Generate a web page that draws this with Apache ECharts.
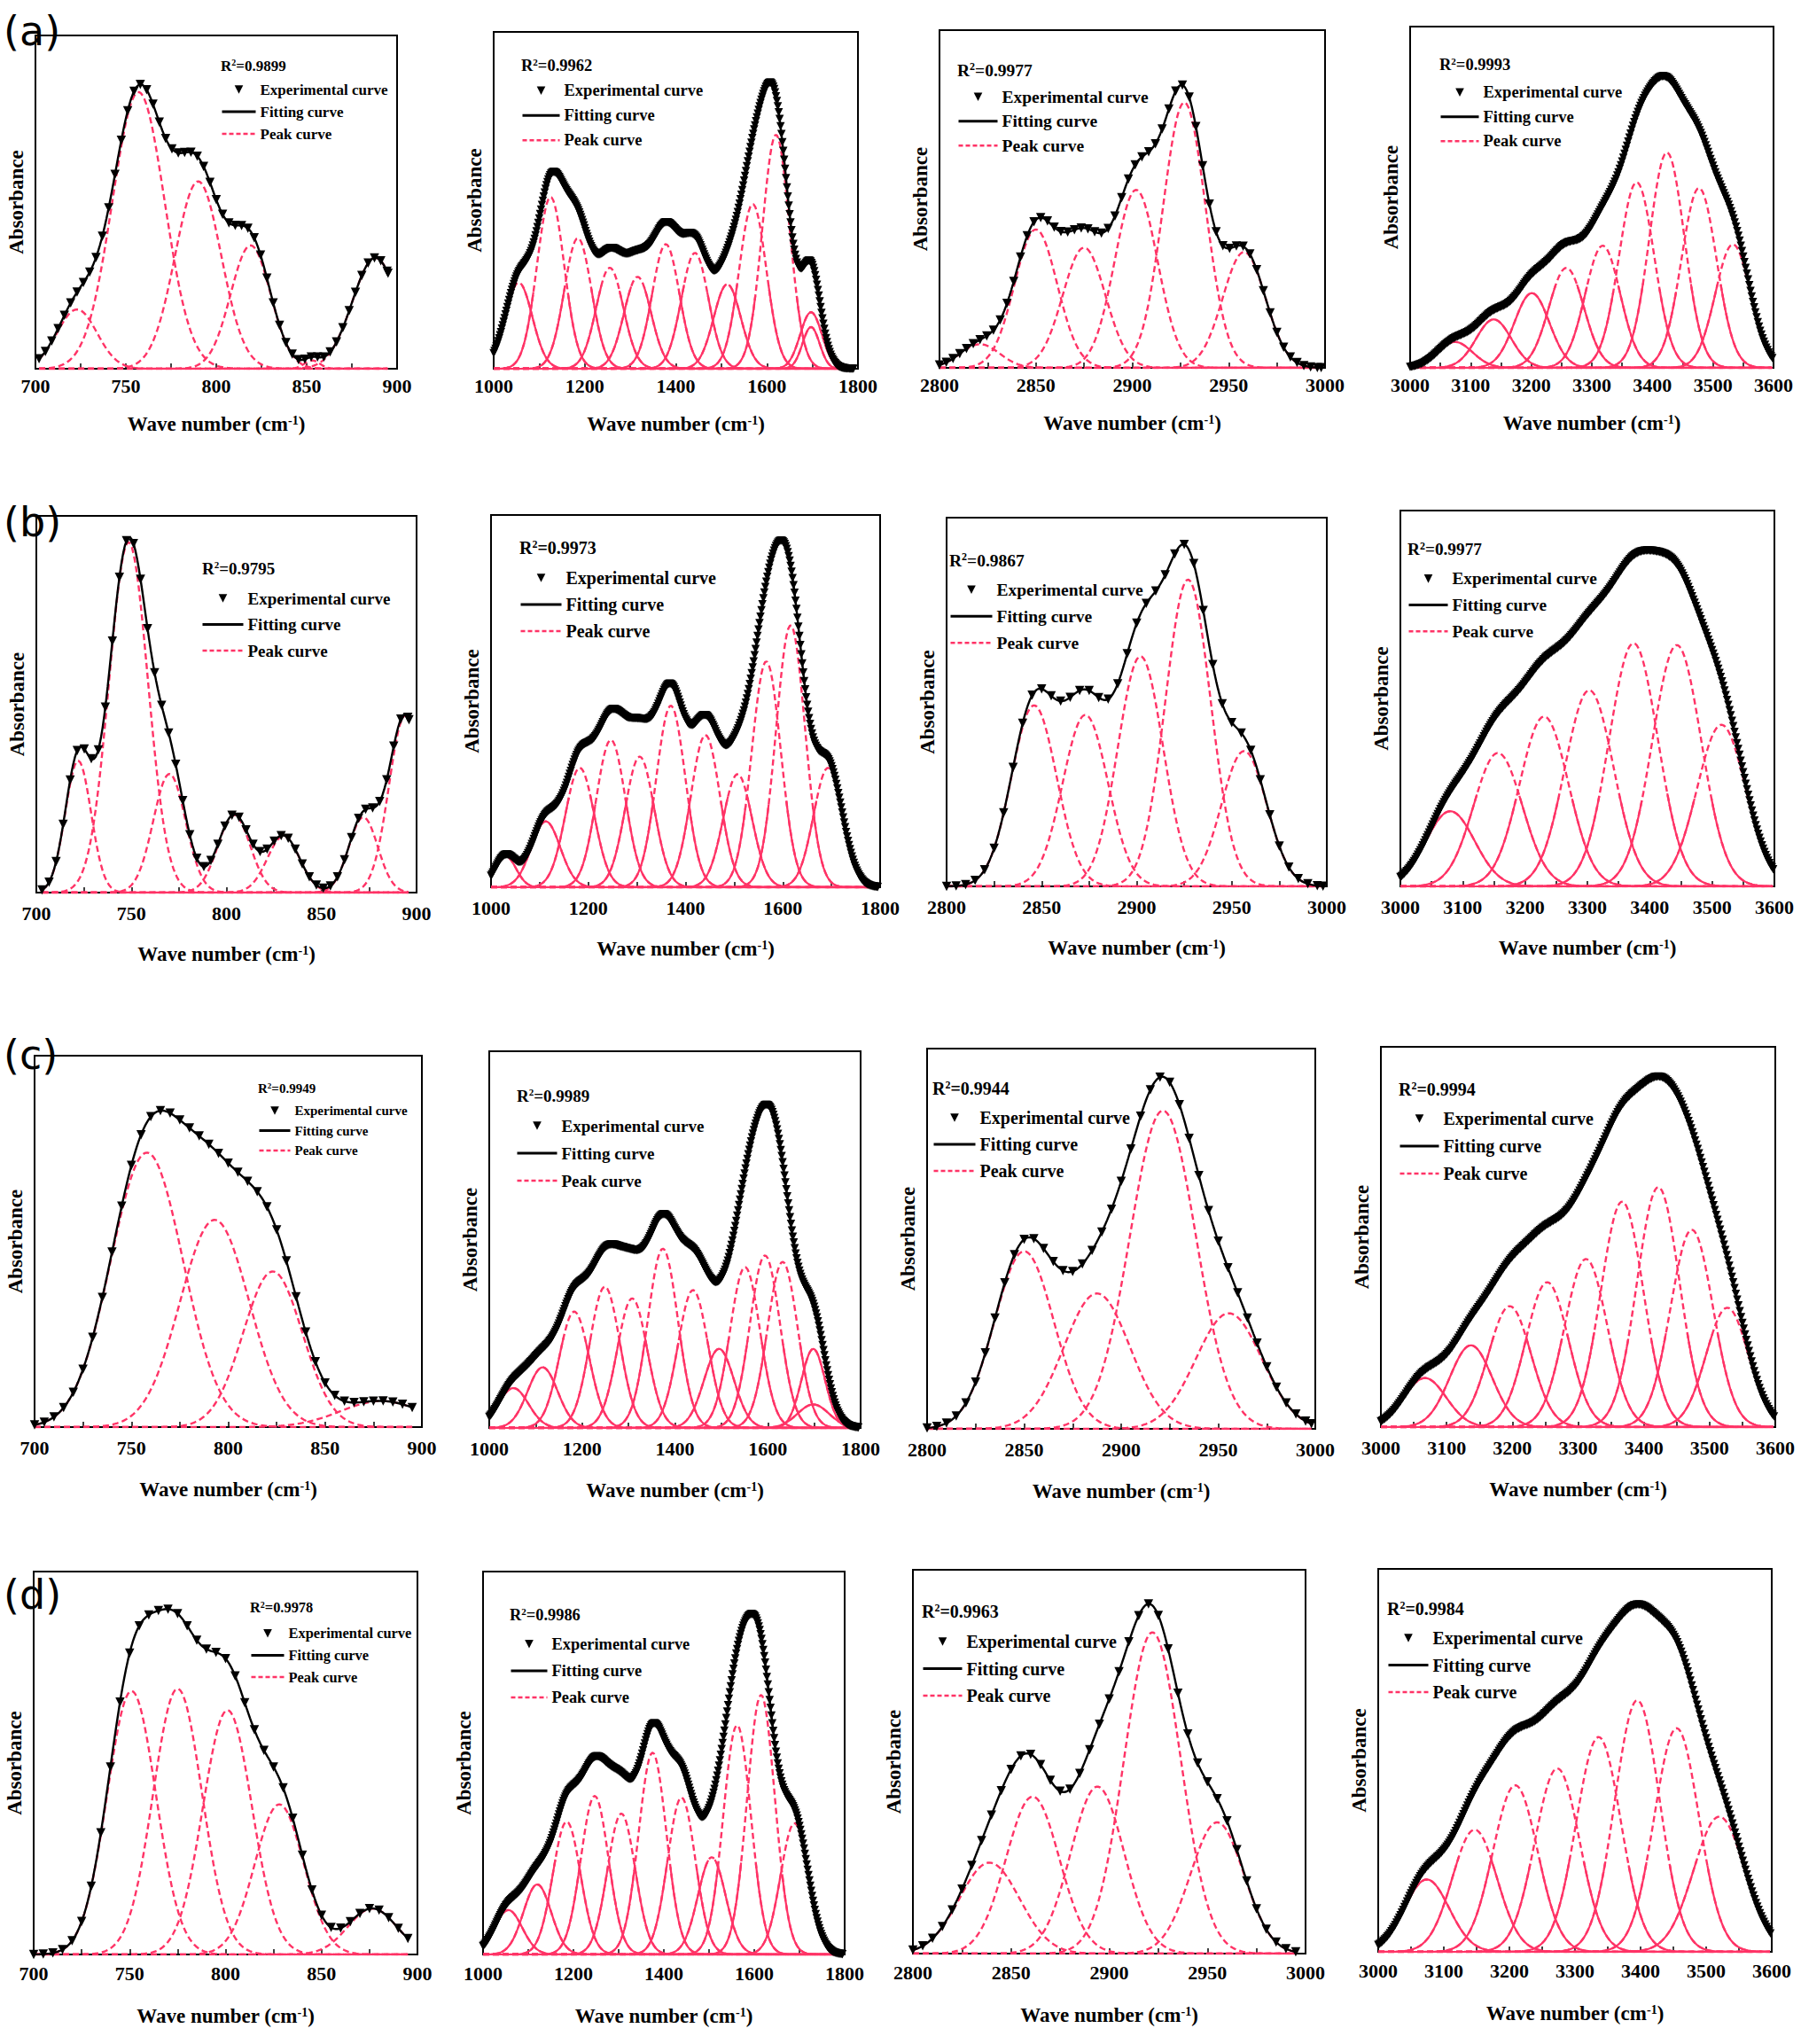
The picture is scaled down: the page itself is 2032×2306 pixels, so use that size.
<!DOCTYPE html>
<html>
<head>
<meta charset="utf-8">
<script src="https://cdn.jsdelivr.net/npm/echarts@6/dist/echarts.min.js"></script>
<style>
html,body{margin:0;padding:0;background:#fff;}
#chart{width:2032px;height:2306px;}
</style>
</head>
<body>
<div id="chart"></div>
<script>
// ---------------- DATA ----------------
// x-axis ranges: [min, max, label interval] in cm-1
const axis_700_900   = [700, 900, 50];
const axis_1000_1800 = [1000, 1800, 200];
const axis_2800_3000 = [2800, 3000, 50];
const axis_3000_3600 = [3000, 3600, 100];

// R^2 labels per row
const r2_a = ['0.9899', '0.9962', '0.9977', '0.9993'];
const r2_b = ['0.9795', '0.9973', '0.9867', '0.9977'];
const r2_c = ['0.9949', '0.9989', '0.9944', '0.9994'];
const r2_d = ['0.9978', '0.9986', '0.9963', '0.9984'];
const rowLabels = ['(a)', '(b)', '(c)', '(d)'];

// Fitted peaks: centre (cm-1), height (fraction of plot height), half width at half maximum (cm-1)
// Experimental range: [first, last, spacing of measured points] (cm-1)
const a1_centers = [723, 757, 790, 819, 853, 888];
const a1_heights = [0.178, 0.83, 0.562, 0.37, 0.025, 0.333];
const a1_widths  = [13, 17, 15, 13, 5, 15];
const a1_exp     = [702, 895, 3.5];

const a2_centers = [1055, 1125, 1185, 1255, 1316, 1378, 1442, 1513, 1569, 1620, 1697, 1697];
const a2_heights = [0.256, 0.51, 0.388, 0.30, 0.273, 0.37, 0.344, 0.251, 0.489, 0.695, 0.168, 0.124];
const a2_widths  = [35, 35, 35, 35, 35, 35, 35, 35, 35, 35, 28, 22];
const a2_exp     = [1000, 1790, 2];

const a3_centers = [2821, 2850, 2875, 2902, 2927, 2958];
const a3_heights = [0.07, 0.41, 0.356, 0.527, 0.786, 0.343];
const a3_widths  = [12, 13, 13, 13, 13, 13];
const a3_exp     = [2800, 2998, 3.5];

const a4_centers = [3074, 3138, 3201, 3258, 3318, 3374, 3424, 3477, 3533];
const a4_heights = [0.076, 0.142, 0.219, 0.293, 0.358, 0.544, 0.631, 0.527, 0.362];
const a4_widths  = [34, 34, 34, 34, 34, 34, 34, 34, 34];
const a4_exp     = [3000, 3598, 2];

const b1_centers = [722, 748.5, 770, 804, 830, 872, 894];
const b1_heights = [0.35, 0.93, 0.315, 0.206, 0.15, 0.2, 0.47];
const b1_widths  = [8, 12, 10, 10, 10, 9, 10];
const b1_exp     = [703, 896, 3.7];

const b2_centers = [1030, 1112.6, 1182.5, 1246.4, 1305.7, 1369.7, 1440.8, 1507, 1566, 1616, 1693];
const b2_heights = [0.084, 0.177, 0.321, 0.396, 0.351, 0.488, 0.409, 0.304, 0.607, 0.704, 0.321];
const b2_widths  = [25, 35, 35, 35, 35, 35, 35, 35, 35, 35, 35];
const b2_exp     = [1000, 1795, 2];

const b3_centers = [2846, 2873, 2902, 2927, 2956.5];
const b3_heights = [0.491, 0.465, 0.624, 0.832, 0.367];
const b3_widths  = [14, 14, 14, 14, 14];
const b3_exp     = [2800, 2998, 5];

const b4_centers = [3080, 3156.5, 3230.5, 3303, 3374, 3443.5, 3515];
const b4_heights = [0.2, 0.355, 0.452, 0.522, 0.647, 0.642, 0.43];
const b4_widths  = [46, 46, 46, 46, 46, 46, 46];
const b4_exp     = [3000, 3598, 2];

const c1_centers = [758, 793, 823, 879];
const c1_heights = [0.739, 0.558, 0.419, 0.07];
const c1_widths  = [22, 21, 18, 25];
const c1_exp     = [700, 895, 5];

const c2_centers = [1052, 1115, 1183, 1249, 1308, 1374, 1439, 1495, 1551, 1594, 1632, 1698, 1698];
const c2_heights = [0.106, 0.161, 0.309, 0.375, 0.344, 0.476, 0.366, 0.21, 0.427, 0.458, 0.441, 0.21, 0.0625];
const c2_widths  = [38, 38, 38, 38, 38, 38, 38, 38, 38, 38, 38, 30, 40];
const c2_exp     = [1000, 1795, 2];

const c3_centers = [2850, 2887.5, 2921.5, 2955.5];
const c3_heights = [0.467, 0.356, 0.837, 0.304];
const c3_widths  = [18, 20, 20, 20];
const c3_exp     = [2800, 2998, 5];

const c4_centers = [3067, 3137, 3196, 3253, 3312, 3367, 3422, 3473, 3527];
const c4_heights = [0.129, 0.215, 0.318, 0.381, 0.442, 0.593, 0.631, 0.519, 0.314];
const c4_widths  = [38, 38, 38, 38, 38, 38, 38, 38, 38];
const c4_exp     = [3000, 3598, 2];

const d1_centers = [751, 775, 801, 828, 876.5];
const d1_heights = [0.688, 0.694, 0.638, 0.392, 0.12];
const d1_widths  = [15, 15, 15, 15, 15];
const d1_exp     = [700, 895, 5];

const d2_centers = [1056, 1120, 1185, 1247, 1306, 1375, 1439, 1506, 1562, 1615, 1689];
const d2_heights = [0.116, 0.183, 0.347, 0.414, 0.368, 0.527, 0.41, 0.254, 0.599, 0.678, 0.343];
const d2_widths  = [36, 36, 36, 36, 36, 36, 36, 36, 36, 36, 36];
const d2_exp     = [1000, 1795, 2];

const d3_centers = [2839, 2861, 2894, 2922, 2955];
const d3_heights = [0.237, 0.409, 0.435, 0.837, 0.342];
const d3_widths  = [18, 16, 16, 17, 16];
const d3_exp     = [2800, 2995, 5];

const d4_centers = [3074, 3147, 3209, 3273, 3336, 3395, 3455, 3520];
const d4_heights = [0.189, 0.319, 0.435, 0.479, 0.561, 0.657, 0.584, 0.353];
const d4_widths  = [40, 40, 40, 40, 40, 40, 40, 46];
const d4_exp     = [3000, 3598, 2];

// ---------------- PANELS (link data) ----------------
const panels = [
  {c:a1_centers,h:a1_heights,w:a1_widths,e:a1_exp,ax:axis_700_900,  r2:r2_a[0],many:false},
  {c:a2_centers,h:a2_heights,w:a2_widths,e:a2_exp,ax:axis_1000_1800,r2:r2_a[1],many:true},
  {c:a3_centers,h:a3_heights,w:a3_widths,e:a3_exp,ax:axis_2800_3000,r2:r2_a[2],many:false},
  {c:a4_centers,h:a4_heights,w:a4_widths,e:a4_exp,ax:axis_3000_3600,r2:r2_a[3],many:true},
  {c:b1_centers,h:b1_heights,w:b1_widths,e:b1_exp,ax:axis_700_900,  r2:r2_b[0],many:false},
  {c:b2_centers,h:b2_heights,w:b2_widths,e:b2_exp,ax:axis_1000_1800,r2:r2_b[1],many:true},
  {c:b3_centers,h:b3_heights,w:b3_widths,e:b3_exp,ax:axis_2800_3000,r2:r2_b[2],many:false},
  {c:b4_centers,h:b4_heights,w:b4_widths,e:b4_exp,ax:axis_3000_3600,r2:r2_b[3],many:true},
  {c:c1_centers,h:c1_heights,w:c1_widths,e:c1_exp,ax:axis_700_900,  r2:r2_c[0],many:false},
  {c:c2_centers,h:c2_heights,w:c2_widths,e:c2_exp,ax:axis_1000_1800,r2:r2_c[1],many:true},
  {c:c3_centers,h:c3_heights,w:c3_widths,e:c3_exp,ax:axis_2800_3000,r2:r2_c[2],many:false},
  {c:c4_centers,h:c4_heights,w:c4_widths,e:c4_exp,ax:axis_3000_3600,r2:r2_c[3],many:true},
  {c:d1_centers,h:d1_heights,w:d1_widths,e:d1_exp,ax:axis_700_900,  r2:r2_d[0],many:false},
  {c:d2_centers,h:d2_heights,w:d2_widths,e:d2_exp,ax:axis_1000_1800,r2:r2_d[1],many:true},
  {c:d3_centers,h:d3_heights,w:d3_widths,e:d3_exp,ax:axis_2800_3000,r2:r2_d[2],many:false},
  {c:d4_centers,h:d4_heights,w:d4_widths,e:d4_exp,ax:axis_3000_3600,r2:r2_d[3],many:true}
];

// ---------------- LAYOUT (pixels) ----------------
// grid: [left, top, right, bottom]; legend: [left, firstItemCentreY, rowSpacing, fontSize, iconWidth]; r2: [left, centreY]
const layout = [
  {g:[40,40,448,416],   lg:[249,101,25,17,38],   r:[249,76]},
  {g:[557,36,968,416],  lg:[588,102,27.5,18.5,42],r:[588,76]},
  {g:[1060,34,1495,415],lg:[1080,109,27,19.5,44],r:[1080,81]},
  {g:[1591,30,2001,415],lg:[1624,104,27,18.5,43],r:[1624,75]},
  {g:[41,582,470,1007], lg:[227,675,29.5,19,46], r:[228,643]},
  {g:[554,581,993,1001],lg:[586,652,30,20,46],   r:[586,620]},
  {g:[1068,584,1497,1000],lg:[1071,665,29.5,19.5,47],r:[1071,634]},
  {g:[1580,576,2002,1000],lg:[1588,653,30,19.3,44],r:[1588,622]},
  {g:[39,1191,476,1610],lg:[291,1253,22.5,15,35],r:[291,1230]},
  {g:[552,1186,971,1611],lg:[582,1270,31,19,45], r:[583,1238]},
  {g:[1046,1183,1484,1612],lg:[1052,1261,30,20,47],r:[1052,1230]},
  {g:[1558,1181,2003,1610],lg:[1578,1262,31,20,44],r:[1578,1231]},
  {g:[38,1773,471,2205],lg:[282,1843,25,16.4,37],r:[282,1816]},
  {g:[545,1773,953,2205],lg:[575,1855,30.5,18.4,41],r:[575,1824]},
  {g:[1030,1771,1473,2204],lg:[1040,1852,30.5,20,44],r:[1040,1820]},
  {g:[1555,1770,1999,2202],lg:[1565,1848,30.5,20,45],r:[1565,1817]}
];
// per row: [label margin, axis name gap]
const rowAxis = [[8,51],[12,58],[12,59],[10,58]];
const rowLabelTop = [12, 566, 1167, 1776];

const FONT = "'Liberation Serif','Times New Roman',serif";
const RED = '#ff3366';

function peakValue(x, c, h, w) {
  const d = (x - c) / w;
  return h * Math.exp(-Math.LN2 * d * d);
}
function positions(start, end, step) {
  const xs = [];
  const n = Math.floor((end - start) / step + 1e-9);
  for (let i = 0; i <= n; i++) xs.push(+(start + i * step).toFixed(2));
  if (xs[xs.length - 1] < end - 1e-6) xs.push(end);
  return xs;
}

const option = {
  animation: false,
  backgroundColor: '#fff',
  grid: [], xAxis: [], yAxis: [], series: [], legend: [], title: []
};

panels.forEach((p, i) => {
  const L = layout[i];
  const row = Math.floor(i / 4);
  const [gl, gt, gr, gb] = L.g;
  option.grid.push({left: gl, top: gt, width: gr - gl, height: gb - gt, show: true,
    borderColor: '#000', borderWidth: 2, backgroundColor: 'transparent', containLabel: false});
  option.xAxis.push({
    gridIndex: i, type: 'value', min: p.ax[0], max: p.ax[1], interval: p.ax[2],
    axisLine: {show: true, onZero: false, lineStyle: {color: '#000', width: 2}},
    axisTick: {show: true, inside: true, length: 6, lineStyle: {color: '#000', width: 1.5}},
    minorTick: {show: true, splitNumber: 2, length: 6, lineStyle: {color: '#000', width: 1.5}},
    splitLine: {show: false}, minorSplitLine: {show: false},
    axisLabel: {fontFamily: FONT, fontWeight: 'bold', fontSize: 22, color: '#000', margin: rowAxis[row][0],
      formatter: v => String(v)},
    name: 'Wave number (cm{sup|-1})', nameLocation: 'middle', nameGap: rowAxis[row][1],
    nameTextStyle: {fontFamily: FONT, fontWeight: 'bold', fontSize: 23, color: '#000',
      rich: {sup: {fontFamily: FONT, fontWeight: 'bold', fontSize: 14, color: '#000', verticalAlign: 'top'}}}
  });
  option.yAxis.push({
    gridIndex: i, type: 'value', min: 0, max: 1,
    axisLine: {show: true, lineStyle: {color: '#000', width: 2}},
    axisTick: {show: false}, axisLabel: {show: false}, splitLine: {show: false},
    name: 'Absorbance', nameLocation: 'middle', nameGap: 10,
    nameTextStyle: {fontFamily: FONT, fontWeight: 'bold', fontSize: 23, color: '#000'}
  });

  const lineStep = (p.ax[1] - p.ax[0]) / 220;
  const lx = positions(p.e[0], p.e[1], lineStep);
  const ex = positions(p.e[0], p.e[1], p.e[2]);
  const sumAt = x => p.c.reduce((s, c, k) => s + peakValue(x, c, p.h[k], p.w[k]), 0);

  // peak curves (dashed)
  p.c.forEach((c, k) => {
    option.series.push({
      type: 'line', name: 'Peak curve', xAxisIndex: i, yAxisIndex: i, silent: true,
      showSymbol: false, symbol: 'none', z: 2,
      lineStyle: {color: RED, width: 2.4, type: [7, 4]},
      itemStyle: {color: RED},
      data: lx.map(x => [x, peakValue(x, c, p.h[k], p.w[k])])
    });
  });
  // lower parts of the peaks drawn solid in the many-peak panels
  if (p.many) {
    p.c.forEach((c, k) => {
      option.series.push({
        type: 'line', name: 'Peak curve', xAxisIndex: i, yAxisIndex: i, silent: true,
        showSymbol: false, symbol: 'none', z: 2,
        lineStyle: {color: RED, width: 2.2, type: 'solid'},
        itemStyle: {color: RED},
        data: lx.map(x => { const v = peakValue(x, c, p.h[k], p.w[k]); return [x, v <= 0.25 ? v : '-']; })
      });
    });
  }
  // fitting curve
  option.series.push({
    type: 'line', name: 'Fitting curve', xAxisIndex: i, yAxisIndex: i, silent: true,
    showSymbol: false, symbol: 'none', z: 3,
    lineStyle: {color: '#000', width: 2.4}, itemStyle: {color: '#000'},
    data: lx.map(x => [x, sumAt(x)])
  });
  // experimental curve (down triangles)
  option.series.push({
    type: 'line', name: 'Experimental curve', xAxisIndex: i, yAxisIndex: i, silent: true,
    showSymbol: true, showAllSymbol: true, symbol: 'triangle', symbolRotate: 180,
    symbolSize: p.many ? 9.5 : 10.5, z: 4,
    lineStyle: {width: 0, opacity: 0}, itemStyle: {color: '#000'},
    data: ex.map(x => [x, sumAt(x)])
  });

  // legend
  const [ll, ly, lsp, lfs, lw] = L.lg;
  option.legend.push({
    orient: 'vertical', left: ll, top: ly - lfs / 2, padding: 0,
    itemWidth: lw, itemHeight: 12, itemGap: lsp - lfs, selectedMode: false,
    textStyle: {fontFamily: FONT, fontWeight: 'bold', fontSize: lfs, color: '#000'},
    data: [
      {name: 'Experimental curve'},
      {name: 'Fitting curve', lineStyle: {width: 3, color: '#000', opacity: 1},
        itemStyle: {opacity: 0, borderWidth: 0}},
      {name: 'Peak curve', lineStyle: {width: 2.5, color: RED, type: [5, 3], opacity: 1},
        itemStyle: {opacity: 0, borderWidth: 0}}
    ]
  });
  // R^2 label
  option.title.push({
    left: L.r[0], top: L.r[1] - lfs / 2 - 2, padding: 0,
    text: 'R{sup|2}=' + p.r2,
    textStyle: {fontFamily: FONT, fontWeight: 'bold', fontSize: lfs, color: '#000',
      rich: {sup: {fontFamily: FONT, fontWeight: 'bold', fontSize: Math.round(lfs * 0.6), color: '#000', verticalAlign: 'top'}}}
  });
});

rowLabels.forEach((t, r) => {
  option.title.push({
    left: 4, top: rowLabelTop[r], padding: 0, text: t,
    textStyle: {fontFamily: "'DejaVu Sans','Open Sans',sans-serif", fontWeight: 'normal', fontSize: 46, color: '#000'}
  });
});

const chart = echarts.init(document.getElementById('chart'), null, {renderer: 'svg'});
chart.setOption(option);
</script>
</body>
</html>
